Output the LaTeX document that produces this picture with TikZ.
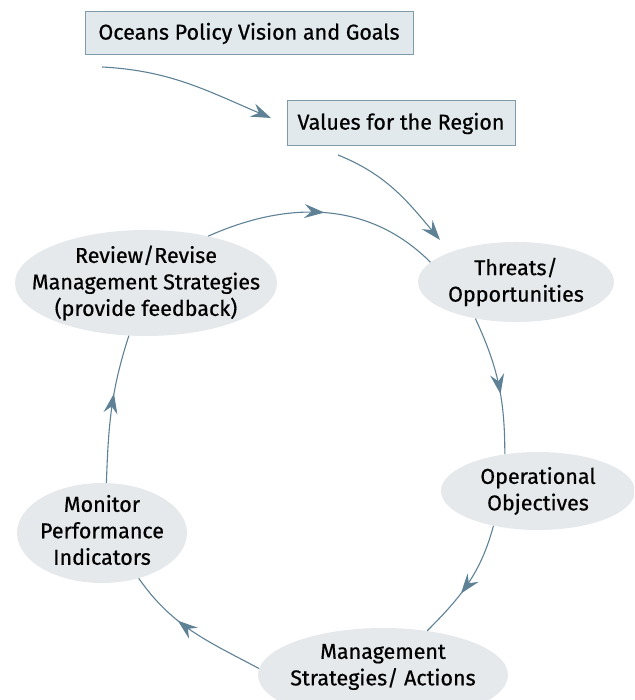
\documentclass[tikz,border=0pt]{standalone}
\usepackage{fontspec}
\setmainfont{Fira Sans}[UprightFeatures={FakeBold=0.6}]
\usetikzlibrary{shapes.geometric,arrows.meta,decorations.markings}
\definecolor{linec}{HTML}{5E8196}
\definecolor{boxfill}{HTML}{E2E9EC}
\definecolor{boxline}{HTML}{7F9AA8}
\definecolor{ellfill}{HTML}{E5E9EB}
\begin{document}
\begin{tikzpicture}[x=1pt,y=1pt,
  txt/.style={font=\fontsize{21.5}{26.5}\selectfont, align=center, inner sep=0pt},
  box/.style={txt, draw=boxline, fill=boxfill, line width=1pt},
  ell/.style={ellipse, fill=ellfill, draw=none, inner sep=0pt},
  conn/.style={draw=linec, color=linec, line width=1.1pt},
  tip/.tip={Stealth[length=20pt,width=14pt,inset=7pt]},
  midarrow/.style={postaction={decorate}, decoration={markings, mark=at position #1 with {\arrow{tip}}}}
  ]
\useasboundingbox (0,0) rectangle (634,700);
\clip (0,0) rectangle (634,700);

% boxes
\node[box, minimum width=328pt, minimum height=43pt] (goals) at (249,666.5) {Oceans Policy Vision and Goals};
\node[box, minimum width=228pt, minimum height=45pt] (values) at (401,576.5) {Values for the Region};

% ellipses
\node[ell, minimum width=262pt, minimum height=106pt] (review) at (146,417) {};
\node[txt] at (review) {Review/Revise\\Management Strategies\\(provide feedback)};
\node[ell, minimum width=196pt, minimum height=80pt] (threats) at (516,418) {};
\node[txt] at (threats) {Threats/\\Opportunities};
\node[ell, minimum width=194pt, minimum height=78pt] (oper) at (538,209) {};
\node[txt] at (oper) {Operational\\Objectives};
\node[ell, minimum width=170pt, minimum height=100pt] (monitor) at (102,167) {};
\node[txt] at ([yshift=3pt]monitor.center) {Monitor\\Performance\\Indicators};
\node[ell, minimum width=250pt, minimum height=94pt] (mgmt) at (383,25) {};
\node[txt] at ([yshift=8pt]mgmt.center) {Management\\Strategies/ Actions};

% free ends
\coordinate (s1) at (102,633);
\coordinate (e1) at (271,582);
\coordinate (s2) at (338,545);
\coordinate (e2) at (440,460);

% connectors
\draw[conn, -tip] (s1) to[out=-3, in=157] (e1);
\draw[conn, -tip] (s2) to[out=-22, in=130] (e2);
\draw[conn, midarrow=0.57] (threats.222) to[out=-65, in=90] (oper.132);
\draw[conn, midarrow=0.6] (oper.218) to[out=-105, in=45] (mgmt.45);
\draw[conn, midarrow=0.62] (mgmt.177) to[out=152, in=-55] (monitor.-51);
\draw[conn, midarrow=0.6] (monitor.85) to[out=88, in=-108] (review.-108);
\draw[conn, midarrow=0.5] (review.37) to[out=24, in=135] (threats.167);
\end{tikzpicture}
\end{document}
